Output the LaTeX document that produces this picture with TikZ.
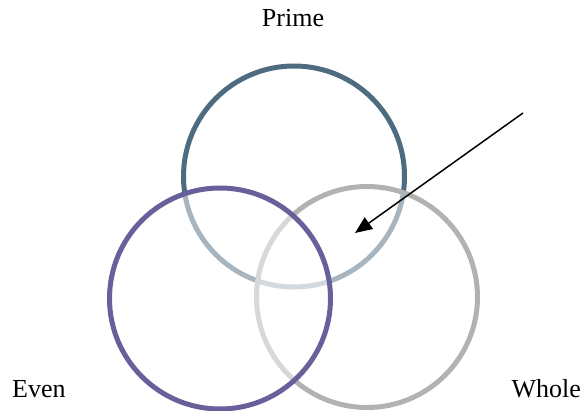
\documentclass[tikz,border=0pt]{standalone}
\usepackage{fontspec}
\setmainfont{Liberation Serif}
\usetikzlibrary{arrows.meta}
\definecolor{primec}{HTML}{4E6C80}
\definecolor{evenc}{HTML}{67609B}
\definecolor{wholec}{HTML}{B2B2B2}
\begin{document}
\begin{tikzpicture}[x=1pt,y=1pt,
  ring/.style={circle,inner sep=0pt,minimum size=221pt,line width=5pt,fill=white,fill opacity=0.5,draw opacity=1},
  lbl/.style={inner sep=0pt,font=\fontsize{26}{30}\selectfont}]
\useasboundingbox (0,0) rectangle (586,410);
\node[ring,draw=primec] (prime) at (294,233.5) {};
\node[ring,draw=wholec] (whole) at (367,113) {};
\node[ring,draw=evenc] (even) at (220,111.5) {};
\node[lbl,anchor=base] (lp) at (293,383) {Prime};
\node[lbl,anchor=base west] (le) at (12,13) {Even};
\node[lbl,anchor=base east] (lw) at (581,13) {Whole};
\coordinate (astart) at (523,297);
\coordinate (aend) at (355,177);
\draw[line width=1.5pt,-{Triangle[length=17pt,width=14pt]}] (astart) -- (aend);
\end{tikzpicture}
\end{document}
